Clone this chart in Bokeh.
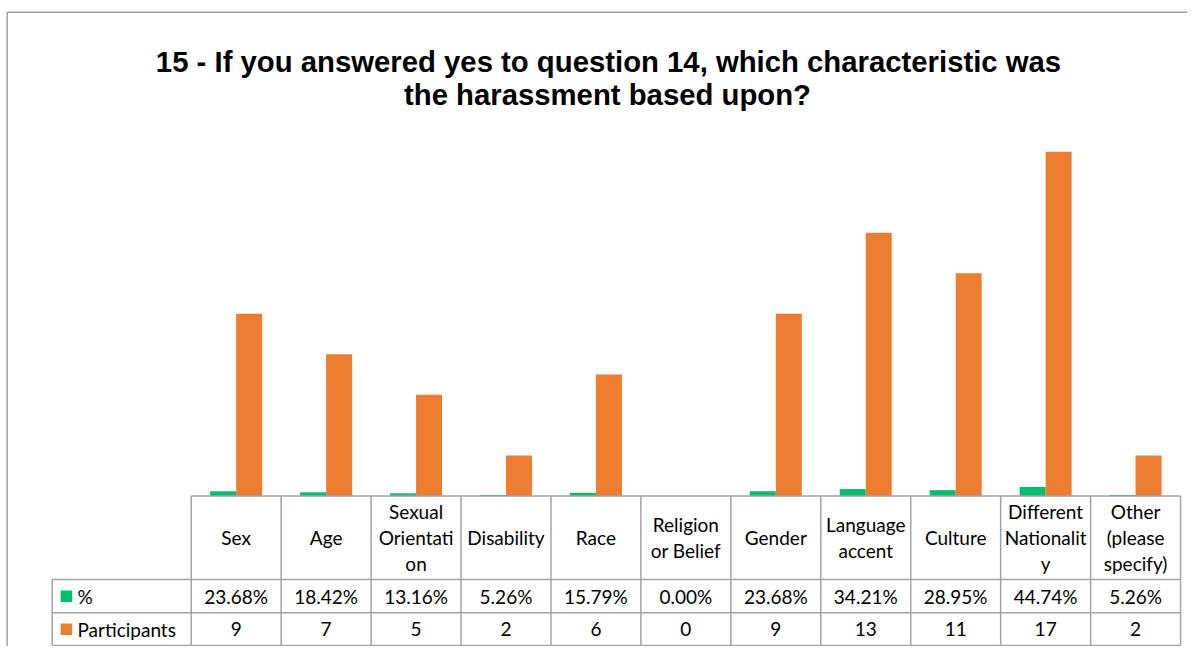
from bokeh.plotting import figure
from bokeh.models import Range1d, ColumnDataSource
from bokeh.transform import dodge
from bokeh.core.properties import value
from bokeh.embed import file_html
from bokeh.resources import INLINE

# ---------------- data ----------------
categories = ["Sex", "Age", "Sexual\nOrientati\non", "Disability", "Race",
              "Religion\nor Belief", "Gender", "Language\naccent", "Culture",
              "Different\nNationalit\ny", "Other\n(please\nspecify)"]
pct = [0.2368, 0.1842, 0.1316, 0.0526, 0.1579, 0.0, 0.2368, 0.3421, 0.2895, 0.4474, 0.0526]
participants = [9, 7, 5, 2, 6, 0, 9, 13, 11, 17, 2]
series_names = ["%", "Participants"]
title_lines = ["15 - If you answered yes to question 14, which characteristic was",
               "the harassment based upon?"]

# ---------------- layout constants ----------------
W, H = 1187, 646
X0, CW = 190.7, 89.94          # table left edge (px) and column width (px)
Y0, PXU = 495.5, 20.25         # baseline (px from top) and px per unit
ROWS = [Y0, 579.0, 612.3, 645.0]
LEG_LEFT = 51.7
GREEN, ORANGE = "#00BF6C", "#ED7D31"
GRID = "#a3a3a3"
FONT = "Lato"

n = len(categories)
p = figure(width=W, height=H, output_backend="svg", toolbar_location=None,
           x_axis_location=None, y_axis_location=None,
           x_range=Range1d(-X0 / CW, (W - X0) / CW),
           y_range=Range1d(-(H - Y0) / PXU, Y0 / PXU),
           min_border=0, outline_line_color=None)
p.extra_x_ranges = {"px": Range1d(0, W)}
p.extra_y_ranges = {"px": Range1d(H, 0)}
p.xgrid.visible = False
p.ygrid.visible = False
p.background_fill_color = "white"
p.border_fill_color = "white"

src = ColumnDataSource(dict(x=[i + 0.5 for i in range(n)], pct=pct, part=participants))

p.vbar(x=dodge("x", -0.1446, range=p.x_range), top="pct", bottom=0, width=0.289,
       source=src, fill_color=GREEN, line_color=None)
p.vbar(x=dodge("x", 0.1446, range=p.x_range), top="part", bottom=0, width=0.289,
       source=src, fill_color=ORANGE, line_color=None)

# chart border (left and top visible)
p.multi_line(xs=[[6.7, 6.7], [6.7, W]], ys=[[11.7, H], [11.7, 11.7]],
             x_range_name="px", y_range_name="px", line_color="#a0a0a0", line_width=1.5)

# data table grid
right = X0 + n * CW
hx = [[X0, right], [LEG_LEFT, right], [LEG_LEFT, right], [LEG_LEFT, right]]
hy = [[ROWS[0]] * 2, [ROWS[1]] * 2, [ROWS[2]] * 2, [ROWS[3]] * 2]
vx = [[X0 + k * CW] * 2 for k in range(n + 1)] + [[LEG_LEFT, LEG_LEFT]]
vy = [[ROWS[0], ROWS[3]] for _ in range(n + 1)] + [[ROWS[1], ROWS[3]]]
p.multi_line(xs=hx + vx, ys=hy + vy, x_range_name="px", y_range_name="px",
             line_color=GRID, line_width=1.5)

# table texts
mid1 = (ROWS[0] + ROWS[1]) / 2
mid2 = (ROWS[1] + ROWS[2]) / 2
mid3 = (ROWS[2] + ROWS[3]) / 2
tstyle = dict(text_font=value(FONT), text_font_size="19px", text_color="#000000",
              text_align="center", text_baseline="middle", y_range_name="px")
src_t = ColumnDataSource(dict(x=[i + 0.5 for i in range(n)],
                              y1=[mid1] * n, y2=[mid2] * n, y3=[mid3] * n,
                              cat=categories,
                              pct_lbl=[f"{v * 100:.2f}%" for v in pct],
                              part_lbl=[str(v) for v in participants]))
p.text(x="x", y="y1", text="cat", source=src_t, text_line_height=1.12, **tstyle)
p.text(x="x", y="y2", text="pct_lbl", source=src_t, **tstyle)
p.text(x="x", y="y3", text="part_lbl", source=src_t, **tstyle)

# legend keys inside table
p.rect(x=[65.9, 65.9], y=[mid2, mid3], width=11.5, height=11.5,
       fill_color=[GREEN, ORANGE], line_color=None,
       x_range_name="px", y_range_name="px")
p.text(x=[77, 77], y=[mid2, mid3], text=series_names, text_font=value(FONT),
       text_font_size="19px", text_color="#000000", text_align="left",
       text_baseline="middle", x_range_name="px", y_range_name="px")

# title
p.text(x=[608, 607], y=[60.7, 94], text=title_lines,
       text_font=value("Liberation Sans"), text_font_style="bold",
       text_font_size="29.3px", text_color="#000000", text_align="center",
       text_baseline="alphabetic", x_range_name="px", y_range_name="px")

open("out.html", "w").write(file_html(p, INLINE))
